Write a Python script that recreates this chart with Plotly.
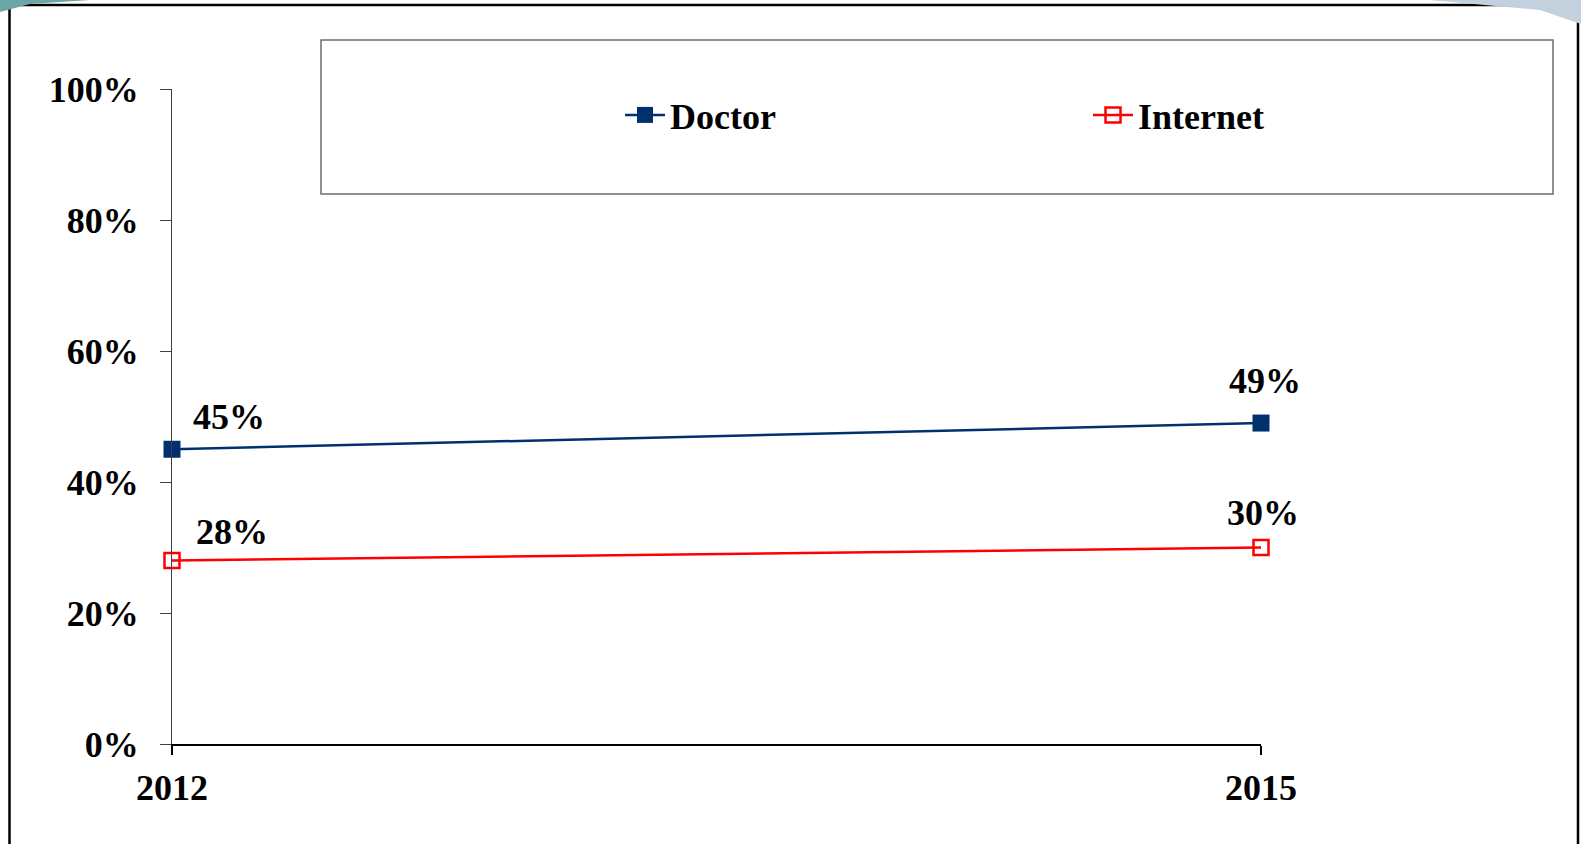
import plotly.graph_objects as go

years = ["2012", "2015"]
doctor = [0.45, 0.49]
internet = [0.28, 0.30]
doctor_labels = ["45%", "49%"]
internet_labels = ["28%", "30%"]
y_ticks = [0, 0.2, 0.4, 0.6, 0.8, 1.0]

W, H = 1581, 844
L, R, T, B = 172, 320, 89, 100
PW, PH = W - L - R, H - T - B

def px(x):
    return (x - L) / PW

def py(y):
    return (H - B - y) / PH

FONT = "Liberation Serif"
NAVY = "#00306E"
RED = "#FF0000"

fig = go.Figure()
fig.add_trace(go.Scatter(
    x=years, y=doctor, name="Doctor", mode="lines+markers", legend="legend",
    line=dict(color=NAVY, width=2.5), cliponaxis=False,
    marker=dict(symbol="square", size=17, color=NAVY, line=dict(color=NAVY, width=0)),
))
fig.add_trace(go.Scatter(
    x=years, y=internet, name="Internet", mode="lines+markers", legend="legend2",
    line=dict(color=RED, width=2.5), cliponaxis=False,
    marker=dict(symbol="square-open", size=15, color=RED, line=dict(color=RED, width=2.5)),
))

annotations = []
shifts_doc = [(57, 32), (4, 42)]
shifts_int = [(60, 29), (2, 35)]
lab_font = dict(family=FONT, size=36, color="black", weight="bold")
for i, yr in enumerate(years):
    annotations.append(dict(x=i, y=doctor[i], xref="x", yref="y", text=doctor_labels[i],
                            showarrow=False, xshift=shifts_doc[i][0], yshift=shifts_doc[i][1],
                            font=lab_font))
    annotations.append(dict(x=i, y=internet[i], xref="x", yref="y", text=internet_labels[i],
                            showarrow=False, xshift=shifts_int[i][0], yshift=shifts_int[i][1],
                            font=lab_font))

shapes = [
    dict(type="rect", xref="paper", yref="paper",
         x0=px(9.5), x1=px(1578), y0=py(850), y1=py(5),
         line=dict(color="black", width=2.5), fillcolor="rgba(0,0,0,0)", layer="below"),
    dict(type="rect", xref="paper", yref="paper",
         x0=px(321), x1=px(1553), y0=py(194), y1=py(40),
         line=dict(color="#6e6e6e", width=1.5), fillcolor="white", layer="below"),
    dict(type="path", xref="paper", yref="paper",
         path=f"M {px(0)},{py(0)} L {px(90)},{py(0)} L {px(30)},{py(4)} L {px(0)},{py(12)} Z",
         fillcolor="#6aa6a4", line=dict(width=0), layer="below"),
    dict(type="path", xref="paper", yref="paper",
         path=f"M {px(1430)},{py(0)} L {px(1581)},{py(0)} L {px(1581)},{py(24)} L {px(1540)},{py(10)} Z",
         fillcolor="#c3d0dd", line=dict(width=0), layer="below"),
]

leg_font = dict(family=FONT, size=36, color="black", weight="bold")
fig.update_layout(
    width=W, height=H,
    margin=dict(l=L, r=R, t=T, b=B, pad=0),
    paper_bgcolor="white", plot_bgcolor="rgba(0,0,0,0)",
    font=dict(family=FONT, size=36, color="black"),
    showlegend=True,
    legend=dict(orientation="h", x=px(620), y=py(115), xanchor="left", yanchor="middle",
                bgcolor="rgba(0,0,0,0)", borderwidth=0, font=leg_font, itemwidth=40),
    legend2=dict(orientation="h", x=px(1088), y=py(115), xanchor="left", yanchor="middle",
                 bgcolor="rgba(0,0,0,0)", borderwidth=0, font=leg_font, itemwidth=40),
    xaxis=dict(type="category", range=[0, 1], showgrid=False, zeroline=False,
               showline=True, linecolor="black", linewidth=2,
               ticks="outside", ticklen=9, tickcolor="black", tickwidth=2,
               ticklabelstandoff=2,
               tickfont=dict(family=FONT, size=36, color="black", weight="bold")),
    yaxis=dict(range=[0, 1], tickvals=y_ticks, tickformat=".0%", showgrid=False,
               zeroline=False, showline=True, linecolor="#404040", linewidth=1.2,
               ticks="outside", ticklen=11, tickcolor="#404040", tickwidth=1.2,
               ticklabelstandoff=14,
               tickfont=dict(family=FONT, size=36, color="black", weight="bold")),
    annotations=annotations,
    shapes=shapes,
)

fig.write_html("out.html", config={"displayModeBar": False},
               post_script="document.body.style.margin='0';document.body.style.overflow='hidden';")
